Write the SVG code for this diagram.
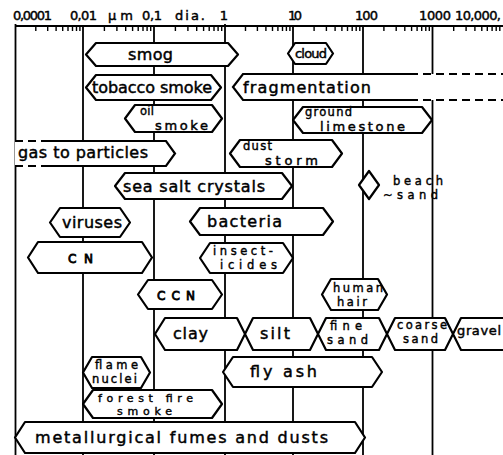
<svg xmlns="http://www.w3.org/2000/svg" width="503" height="455" viewBox="0 0 503 455">
<style>
.bg{fill:#fff}
.grid{stroke:#000;stroke-width:1.8;fill:none}
.tick{stroke:#000;stroke-width:1.4;fill:none}
.sh{fill:#fff;stroke:#000;stroke-width:2.2;stroke-linejoin:round}
.ln{fill:none;stroke:#000;stroke-width:2.2}
.dash{fill:none;stroke:#000;stroke-width:2.2;stroke-dasharray:8 5}
.nofill{fill:#fff;stroke:none}
text{font-family:"DejaVu Sans","Liberation Sans",sans-serif;fill:#000;stroke:#000;stroke-width:0.45;font-size:16px}
.ax{font-size:13px}
.sm{font-size:13px}
.tw{font-size:11.5px;stroke-width:0.4}
.tx{font-size:11px;stroke-width:0.4}
.cap{font-size:12px;stroke-width:0.8}
</style>
<rect class="bg" x="0" y="0" width="503" height="455"/>
<g id="axis">
<path class="grid" d="M15.5,24 V455 M83,26 V455 M154,26 V455 M225,24 V455 M293,26 V455 M363,26 V455 M432.5,26 V455 M15.5,26 H503"/>
<path class="tick" d="M35.8,26v5M47.7,26v5M56.1,26v5M62.7,26v5M68,26v5M72.5,26v5M76.5,26v5M79.9,26v5
M104.4,26v5M116.9,26v5M125.7,26v5M132.6,26v5M138.2,26v5M143,26v5M147.1,26v5M150.7,26v5
M175.4,26v5M187.9,26v5M196.7,26v5M203.6,26v5M209.2,26v5M214,26v5M218.1,26v5M221.7,26v5
M245.5,26v5M257.4,26v5M265.9,26v5M272.5,26v5M277.9,26v5M282.5,26v5M286.4,26v5M289.9,26v5
M314.1,26v5M326.4,26v5M335.1,26v5M341.9,26v5M347.5,26v5M352.2,26v5M356.2,26v5M359.8,26v5
M383.9,26v5M396.2,26v5M404.8,26v5M411.6,26v5M417.1,26v5M421.7,26v5M425.8,26v5M429.3,26v5
M453.7,26v5M466.1,26v5M474.9,26v5M481.8,26v5M487.3,26v5M492.1,26v5M496.2,26v5M499.8,26v5"/>
<text class="ax" x="13" y="20" textLength="39">0,0001</text>
<text class="ax" x="70" y="20" textLength="27">0,01</text>
<text class="ax" x="108" y="20" textLength="25">µm</text>
<text class="ax" x="142" y="20" textLength="20">0,1</text>
<text class="ax" x="175" y="20" textLength="30">dia.</text>
<text class="ax" x="224" y="20" text-anchor="middle">1</text>
<text class="ax" x="288" y="20" textLength="14">10</text>
<text class="ax" x="355" y="20" textLength="23">100</text>
<text class="ax" x="419" y="20" textLength="32">1000</text>
<text class="ax" x="455" y="20" textLength="46">10,000,</text>
</g>
<g id="smog"><polygon class="sh" points="86,54.5 96,43 228,43 238,54.5 228,66 96,66"/><text x="128" y="60" textLength="45">smog</text></g>
<g id="cloud"><polygon class="sh" points="288,53.5 295,43 326,43 333,53.5 326,64 295,64"/><text class="sm" x="295" y="58" textLength="32">cloud</text></g>
<g id="tobacco-smoke"><polygon class="sh" points="86,87.5 96,75 211,75 221,87.5 211,100 96,100"/><text x="92" y="93" textLength="120">tobacco smoke</text></g>
<g id="fragmentation"><polygon class="nofill" points="233,87 243,74 503,74 503,100 243,100"/><path class="ln" d="M410,74 H243 L233,87 L243,100 H410"/><path class="dash" d="M410,74 H503 M410,100 H503"/><text x="243" y="93" textLength="128">fragmentation</text></g>
<g id="oil-smoke"><polygon class="sh" points="125,118.5 135,105 212,105 222,118.5 212,132 135,132"/><text class="tw" x="140" y="115" textLength="14">oil</text><text class="sm" x="155" y="129.5" textLength="53">smoke</text></g>
<g id="ground-limestone"><polygon class="sh" points="293,120 303,107 422,107 432,120 422,133 303,133"/><text class="tw" x="305" y="116" textLength="47">ground</text><text class="sm" x="320" y="131" font-size="12.5" textLength="85">limestone</text></g>
<g id="gas-to-particles"><polygon class="nofill" points="15,141 166,141 175,153.5 166,166 15,166"/><path class="ln" d="M45,141 H166 L175,153.5 L166,166 H45"/><path class="dash" d="M15,141 H45 M15,166 H45"/><text x="18" y="158" textLength="130">gas to particles</text></g>
<g id="dust-storm"><polygon class="sh" points="230,153.5 240,140 332,140 342,153.5 332,167 240,167"/><text class="tw" x="243" y="150" textLength="29">dust</text><text class="sm" x="265" y="165" textLength="53">storm</text></g>
<g id="sea-salt-crystals"><polygon class="sh" points="115,186 125,173 282,173 292,186 282,199 125,199"/><text x="123" y="192" textLength="142">sea salt crystals</text></g>
<g id="beach-sand"><polygon class="sh" points="369,171 379,185 369,199 359,185"/><text class="tw" x="393" y="184.5" textLength="50">beach</text><text class="tw" x="383" y="198.5" textLength="55">~sand</text></g>
<g id="viruses"><polygon class="sh" points="50,222.5 60,208 120,208 130,222.5 120,237 60,237"/><text x="62" y="228" textLength="60">viruses</text></g>
<g id="bacteria"><polygon class="sh" points="190,221.5 200,208 323,208 333,221.5 323,235 200,235"/><text x="207" y="227" textLength="75">bacteria</text></g>
<g id="CN"><polygon class="sh" points="28,257.5 38,242 142,242 152,257.5 142,273 38,273"/><text class="cap" x="68" y="263" textLength="25">CN</text></g>
<g id="insecticides"><polygon class="sh" points="200,258 210,243 283,243 293,258 283,273 210,273"/><text class="tw" x="213" y="255" textLength="60">insect-</text><text class="tw" x="220" y="269" textLength="57">icides</text></g>
<g id="CCN"><polygon class="sh" points="138,294.5 148,280 212,280 222,294.5 212,309 148,309"/><text class="cap" x="157" y="300" textLength="38">CCN</text></g>
<g id="human-hair"><polygon class="sh" points="322,294.5 331,279 378,279 387,294.5 378,310 331,310"/><text class="tw" x="333" y="292" textLength="50">human</text><text class="tw" x="337" y="306" textLength="30">hair</text></g>
<g id="clay"><polygon class="sh" points="155,334 165,318 237,318 245,334 237,350 165,350"/><text x="173" y="339" textLength="35">clay</text></g>
<g id="silt"><polygon class="sh" points="245,334 253,318 310,318 318,334 310,350 253,350"/><text x="260" y="339" textLength="30">silt</text></g>
<g id="fine-sand"><polygon class="sh" points="318,334 326,318 379,318 387,334 379,350 326,350"/><text class="tw" x="330" y="330" textLength="32">fine</text><text class="tw" x="327" y="344" textLength="41">sand</text></g>
<g id="coarse-sand"><polygon class="sh" points="387,334 395,318 445,318 453,334 445,350 395,350"/><text class="tw" x="397" y="328.5" textLength="50">coarse</text><text class="tw" x="403" y="343" textLength="35">sand</text></g>
<g id="gravel"><polygon class="sh" points="453,334 461,318 510,318 510,350 461,350"/><text class="sm" x="457" y="335" textLength="44">gravel</text></g>
<g id="flame-nuclei"><polygon class="sh" points="83,372.5 92,357 141,357 150,372.5 141,388 92,388"/><text class="tw" x="95" y="369" textLength="43">flame</text><text class="tw" x="92" y="383" textLength="45">nuclei</text></g>
<g id="fly-ash"><polygon class="sh" points="223,372 233,357 372,357 382,372 372,387 233,387"/><text x="250" y="377" textLength="67">fly ash</text></g>
<g id="forest-fire-smoke"><polygon class="sh" points="83,404 93,390 212,390 222,404 212,418 93,418"/><text class="tx" x="98" y="402" textLength="95">forest fire</text><text class="tx" x="117" y="415" textLength="55">smoke</text></g>
<g id="metallurgical-fumes"><polygon class="sh" points="15,437.5 25,422 355,422 365,437.5 355,453 25,453"/><text x="35" y="443" textLength="293">metallurgical fumes and dusts</text></g>
</svg>
